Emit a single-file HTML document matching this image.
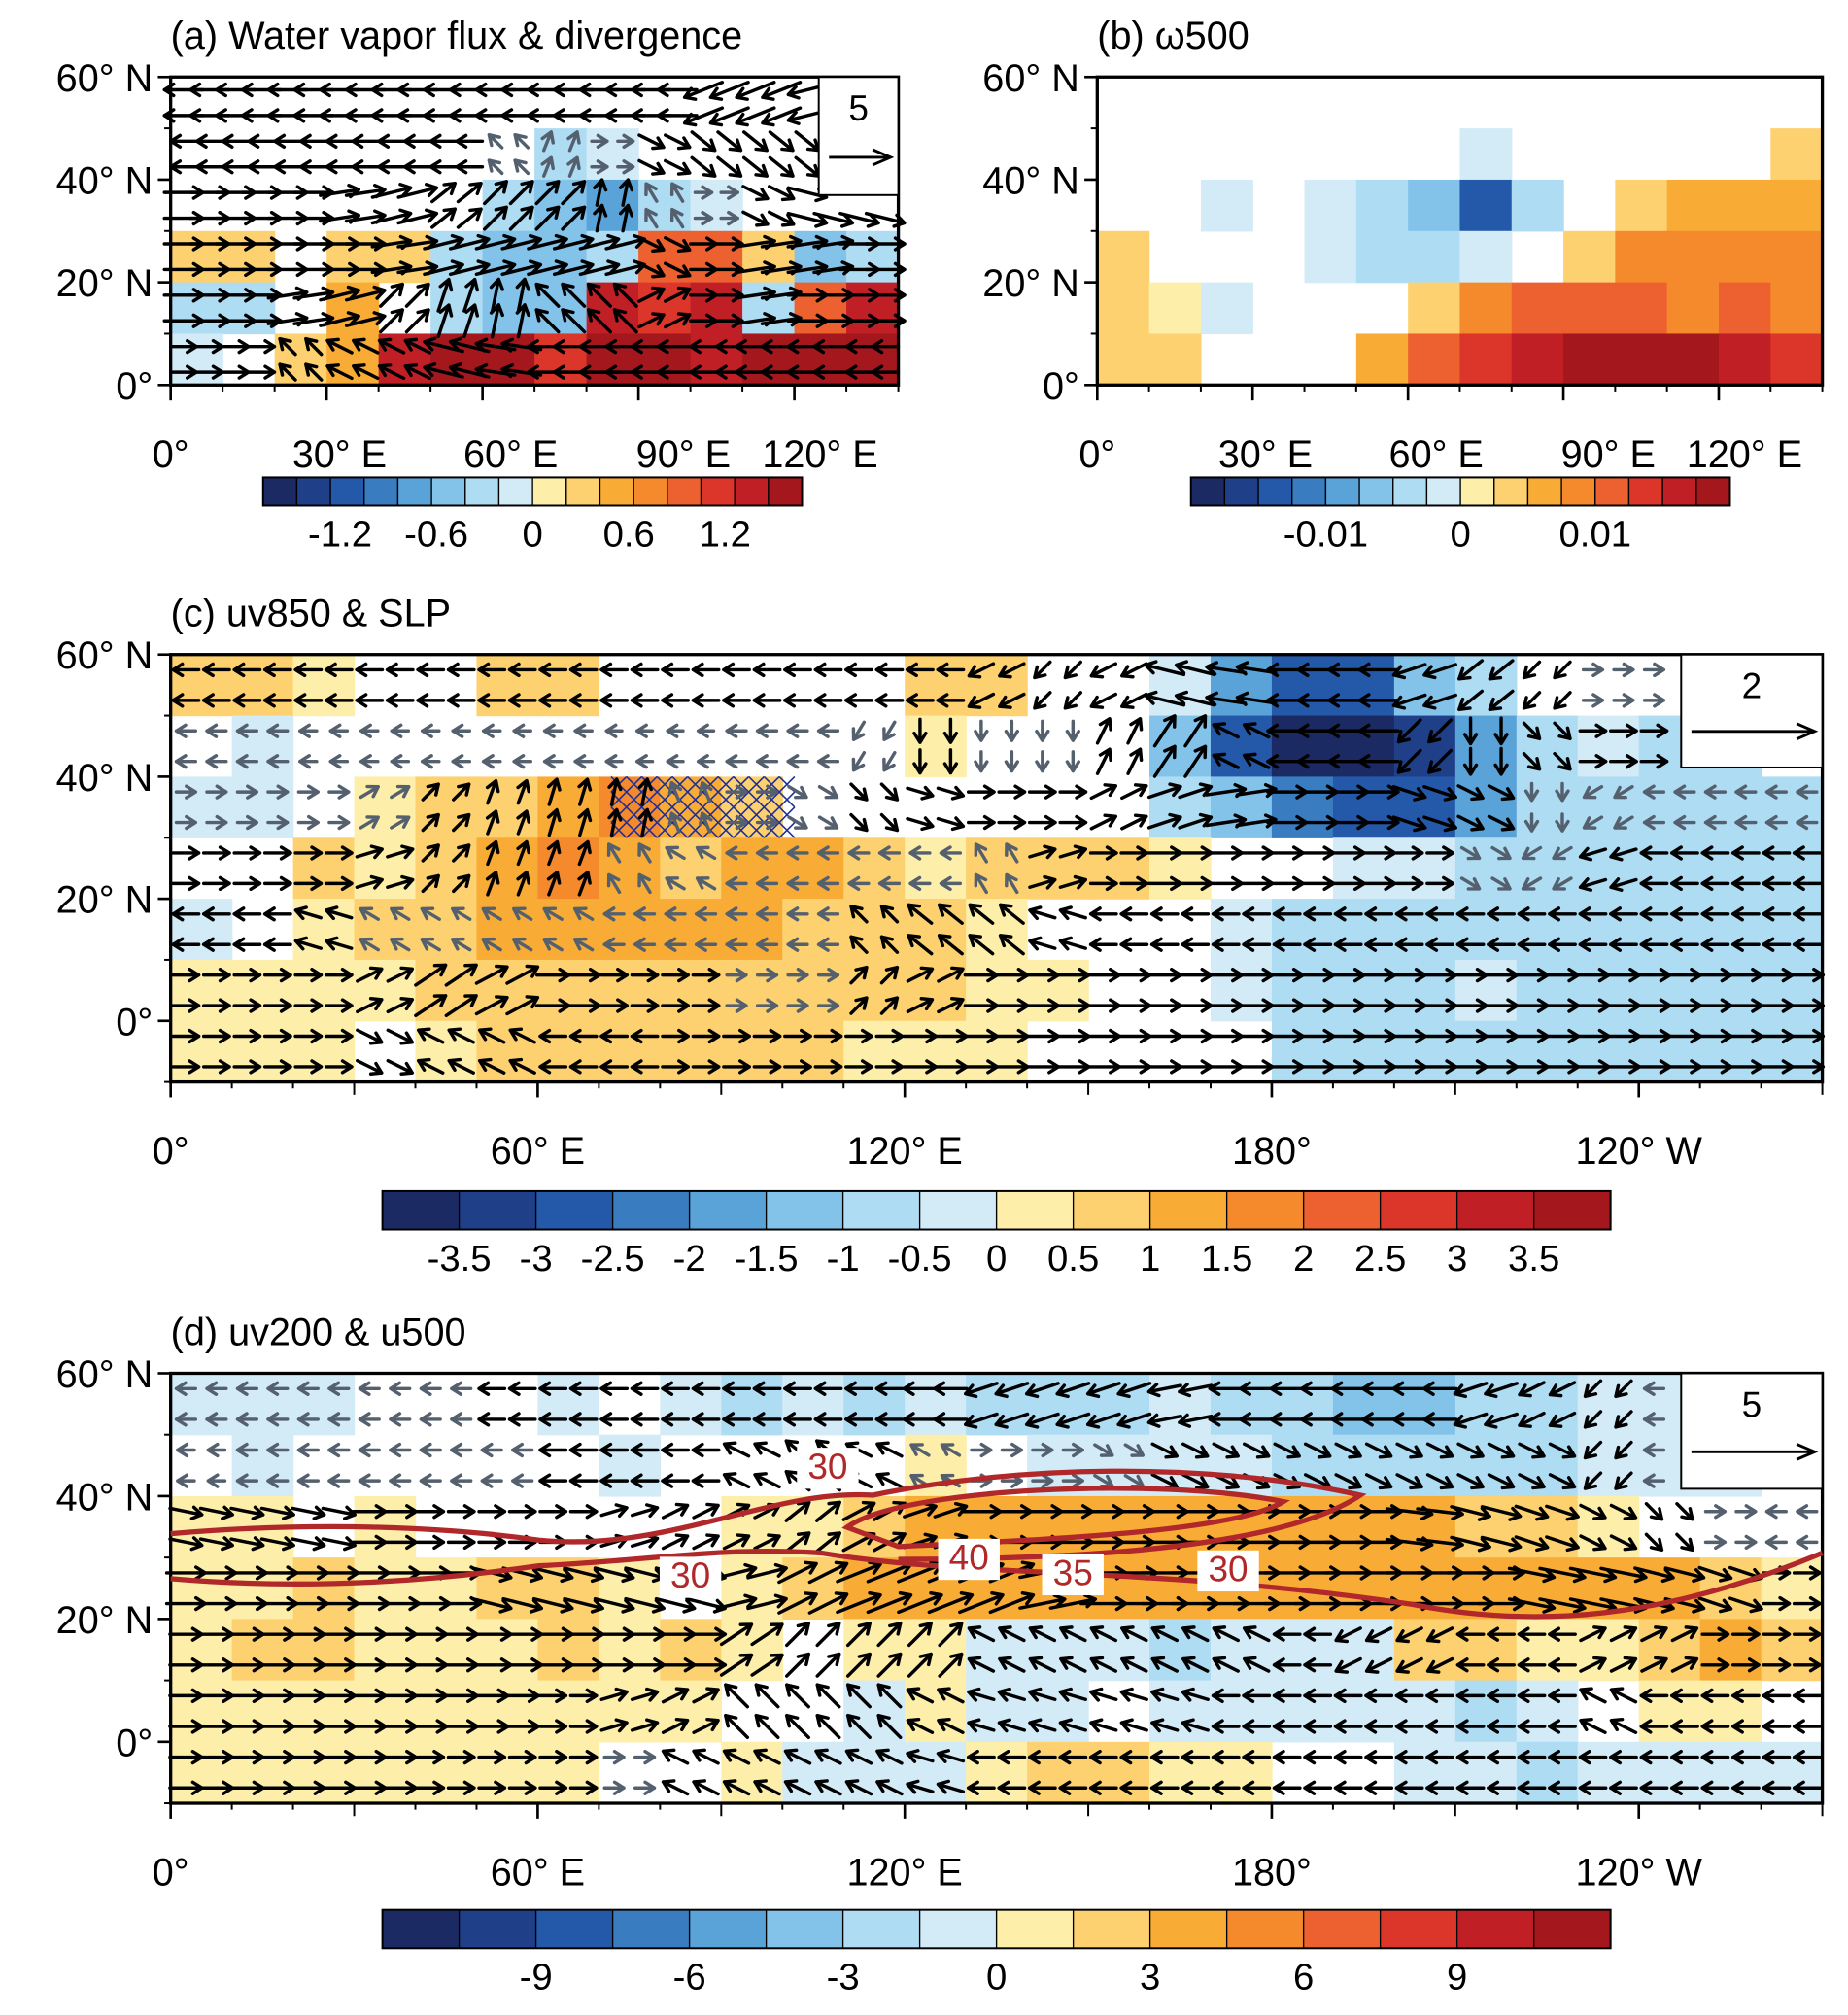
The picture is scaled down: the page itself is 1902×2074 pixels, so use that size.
<!DOCTYPE html>
<html><head><meta charset="utf-8"><style>
html,body{margin:0;padding:0;background:#fff}
svg{display:block}
text{font-family:"Liberation Sans",Arial,sans-serif;fill:#000}
</style></head><body>
<svg id="fig" xmlns="http://www.w3.org/2000/svg" width="1902" height="2074" viewBox="0 0 1440 1570" preserveAspectRatio="none"></svg>
<script>
// ---------- data ----------
const colors16=['#1b2a63','#1f4088','#2458a8','#3a7cc0','#5aa3d9','#83c2e9','#aedcf3','#d3ebf7','#fdeeaa','#fdd170','#f9ac35','#f58a2c','#ec612f','#dc352a','#c11f26','#a3171d'];
const levA=[-1.6,-1.4,-1.2,-1.0,-0.8,-0.6,-0.4,-0.2,0,0.2,0.4,0.6,0.8,1.0,1.2,1.4,1.6];
const ticksA=['-1.2','-0.6','0','0.6','1.2'];
const levB=[-0.016,-0.014,-0.012,-0.01,-0.008,-0.006,-0.004,-0.002,0,0.002,0.004,0.006,0.008,0.01,0.012,0.014,0.016];
const ticksB=['-0.01','0','0.01'];
const levC=[-4,-3.5,-3,-2.5,-2,-1.5,-1,-0.5,0,0.5,1,1.5,2,2.5,3,3.5,4];
const ticksC=['-3.5','-3','-2.5','-2','-1.5','-1','-0.5','0','0.5','1','1.5','2','2.5','3','3.5'];
const levD=[-12,-10.5,-9,-7.5,-6,-4.5,-3,-1.5,0,1.5,3,4.5,6,7.5,9,10.5,12];
const ticksD=['-9','-6','-3','0','3','6','9'];
// panel a divergence (lon 0-140 by 10, lat rows 55..5)
const divA=[
[0,0,0,0,0,0,0,0,0,0,0,0,0,0],
[0,0,0,0,0,0,0,-0.3,-0.2,0,0,0,0,0],
[0,0,0,0,0,0,-0.3,-0.6,-0.8,-0.4,-0.2,0,0,0],
[0.2,0.3,0,0.3,0.2,-0.4,-0.6,-0.5,-0.3,0.9,0.8,0.3,-0.5,-0.3],
[-0.3,-0.4,0,0.5,0,-0.3,-0.5,-0.6,1.2,1.0,1.3,-0.3,0.8,1.2],
[-0.2,0,0.3,0.5,1.3,1.5,1.5,1.0,1.5,1.6,1.3,1.6,1.6,1.5]];
const uA=[[-2,-2,-2,-2,-2,-2,-2,-2,-2,-2,-2,-2,-2,-2],[-1,-1,-1,-1,-1,-1,-0.3,0.2,0.2,1,1,1,1,1],[2,2,2,2,2,1,1,1,0.2,-0.3,0.3,1,2,2],[2,2,2,2,2,2,2,2,2,1,1,2,2,2],[2,2,2,2,1,0.5,0.3,-1,-1,1,1,2,2,2],[1,1,-0.5,-1,-1,-2,-2,-2,-2,-2,-1,-2,-2,-1]];
const vA=[[0,0,0,0,0,0,0,0,0,0,-0.8,-0.8,-0.5,0],[0,0,0,0,0,0,0.3,0.5,0,-0.5,-0.8,-0.8,-0.8,-0.5],[0,0,0,0.3,0.5,0.8,1,1,1,0.5,0,-0.5,-0.5,-0.5],[0,0,0,0,0.3,0.5,0.5,0.5,0.5,-0.5,0,0.3,0.3,0],[0,0,0.3,0.5,1,1.5,1.5,1,1,0.5,0,0.3,0,0],[0,0,0.5,0.5,0.5,0.5,0.3,0,0,0,0,0,0,0]];
// panel b omega500
const omB=[
[0,0,0,0,0,0,0,0,0,0,0,0,0,0],
[0,0,0,0,0,0,0,-0.002,0,0,0,0,0,0.002],
[0,0,-0.001,0,-0.002,-0.004,-0.006,-0.012,-0.004,0,0.002,0.004,0.004,0.004],
[0.002,0,0,0,-0.001,-0.004,-0.004,-0.002,0,0.002,0.006,0.006,0.006,0.006],
[0.002,0.001,-0.002,0,0,0,0.002,0.006,0.008,0.008,0.008,0.006,0.008,0.006],
[0.002,0.002,0,0,0,0.004,0.008,0.010,0.012,0.014,0.014,0.014,0.012,0.010]];
// panel c SLP (lon 0-270 by 10, lat rows 55..-5)
const slpC=[
[0.5,0.5,0.3,0,0,0.7,0.7,0,0,0,0,0,0.7,0.7,0,0,-0.5,-2,-2.7,-2.7,-1.2,-0.7,0,0,0,0,0],
[0,-0.3,0,0,0,0,0,0,0,0,0,0,0.3,0,0,0,-1.2,-3,-3.7,-3.7,-3.2,-1.7,-0.7,-0.3,-0.7,-0.7,0],
[-0.3,-0.3,0,0.3,0.7,0.7,1.2,1.7,1.2,0.7,0,0,0,0,0,0,-0.7,-1.2,-2.2,-2.7,-2.7,-1.7,-0.7,-0.7,-0.7,-0.7,-0.7],
[0,0,0.7,0.3,0.7,1.2,1.7,1.2,0.7,1.2,1.2,0.7,0.3,0.7,0.7,0.7,0.3,0,0,-0.3,-0.3,-0.7,-0.7,-0.7,-0.7,-0.7,-0.7],
[-0.3,0,0.3,0.7,0.7,1.2,1.2,1.2,1.2,1.2,0.7,0.7,0.7,0.3,0,0,0,-0.3,-0.7,-0.7,-0.7,-0.7,-0.7,-0.7,-0.7,-0.7,-0.7],
[0.3,0.3,0.3,0.3,0.7,0.7,0.7,0.7,0.7,0.7,0.7,0.7,0.7,0.3,0.3,0,0,-0.3,-0.7,-0.7,-0.7,-0.3,-0.7,-0.7,-0.7,-0.7,-0.7],
[0.3,0.3,0.3,0,0.3,0.7,0.7,0.7,0.7,0.7,0.7,0.3,0.3,0.3,0,0,0,0,-0.7,-0.7,-0.7,-0.7,-0.7,-0.7,-0.7,-0.7,-0.7]];
const uC=[
[-1,-1,-1,-1,-1,-1,-1,-1,-1,-1,-1,-1,-1,-1,-0.5,-1,-2,-2,-2,-2,-1.5,-1,-0.5,0.5,0.5,0.5,0.5],
[-0.5,-0.5,-0.3,-0.3,-0.3,-0.3,-0.3,-0.2,-0.2,-0.5,-0.5,-0.3,0,0,0,0.5,1,-1,-2,-2,-1,0,0.5,1,1,1,0.5],
[0.5,0.5,0.5,0.5,0.5,0.3,0.3,0.2,-0.2,0.5,0.5,0.5,1,1,1,1,1.5,2,2,2,1.5,1,0,-0.5,-0.5,-0.5,-0.5],
[1,1,1,1,0.5,0.3,0.3,-0.3,-0.5,-0.5,-0.5,-0.5,-0.5,-0.3,1,1,1.5,1.5,1.5,1.5,1,0.5,-0.5,-1,-1,-1,-1],
[-1,-1,-1,-0.5,-0.5,-0.5,-0.5,-0.5,-0.5,-0.5,-0.5,-0.5,-1,-1,-1,-1,-1,-1,-1,-1,-1,-1,-1,-1,-1,-1,-1],
[1,1,1,1,1.5,1.5,1.5,1,1,0.5,0.5,0.5,1,1.5,1.5,1.5,1.5,1.5,1.5,1.5,1.5,1.5,1.5,1.5,1.5,1.5,1.5],
[1,1,1,1,-1,-1,-1,-1,1,1,1,1,1.5,1.5,1.5,1.5,1.5,1.5,1.5,1.5,1.5,1.5,1.5,1.5,1.5,1.5,1.5]];
const vC=[
[0,0,0,0,0,0,0,0,0,0,0,0,0,-0.5,-0.5,-0.5,0.5,0.3,0,0,-0.5,-0.8,-0.5,0,0,0,0],
[0,0,0,0,0,0,0,0,0,0,0,-0.5,-0.8,-0.5,-0.5,1,1.5,0.5,0,0,-1,-1,-0.5,0,0,0,0],
[0,0,0,0.3,0.5,0.8,1,1,0.5,0,-0.3,-0.5,-0.3,0,0,0.5,0.5,0.3,0,0,-0.5,-0.5,-0.3,-0.3,0,0,0],
[0,0,0,0.3,0.5,0.8,0.8,0.5,0.3,0,0,0,0,0.5,0.3,0,0,0,0,0,0,-0.3,-0.3,-0.3,0,0,0],
[0,0,0.3,0.3,0.3,0.3,0.3,0,0,0,0,0.5,0.8,0.8,0.3,0,0,0,0,0,0,0,0,0,0,0,0],
[0,0,0,0.5,1,0.8,0,0,0,0,0,0.5,0.5,0,0,0,0,0,0,0,0,0,0,0,0,0,0],
[0,0,0,-0.5,0.5,0.5,0,0,0,0,0,0,0,0,0,0,0,0,0,0,0,0,0,0,0,0,0]];
// panel d u500 shading
const u5D=[
[-1,-1,-1,0,0,0,-1,0,-1,-2,-1,-2,-1,-2,-2,-2,-1,-3,-3,-4,-4,-3,-2,-1,-1,-2,-2],
[0,-1,0,0,0,0,0,-1,0,0,0,0,1,0,-1,-1,-1,-1,-2,-2,-2,-3,-2,-1,-1,-1,0],
[1,1,0,1,0,0,0,0,0,1,1,2,3.5,3.5,3.5,4,4,4,4,4,3.5,2,2,1,0,0,0],
[1,1,2,1,1,2,2,1,0,1,2,3.5,3.5,4,3.5,3.5,3.5,3.5,4,4,4,3.5,3.5,3.5,3.5,2,1],
[1,2,2,1,1,1,2,1,2,1,0,1,1,-1,-1,-1,-2,-1,-1,-1,2,2,1,1,2,3.5,2],
[1,1,1,1,1,1,1,1,1,0,0,-1,1,-1,-1,0,-1,-1,-1,-1,-1,-2,-1,0,1,1,0],
[1,1,1,1,1,1,1,0,0,1,-1,-1,-1,1,2,2,1,1,0,0,-1,-1,-2,-1,-1,-1,-1]];
const uD=[
[-0.5,-0.5,-0.5,-0.5,-0.5,-1,-1,-1,-1,-1,-1,-1,-1.5,-1.5,-1.5,-1.5,-1.5,-1.5,-1.5,-1.5,-1.5,-1.5,-1,-0.5,-0.5,-0.5,-0.5],
[-0.3,-0.5,-0.5,-0.5,-0.5,-0.5,-1,-1,-1,-1,-1,-1,-0.5,0.5,0.5,0.5,1,1,1,1,1,1,1,-0.5,-0.5,-0.5,-0.5],
[1.5,1.5,1.5,1.5,1,1,1,1,1,1,1,1.5,1.5,2,2,2,2.5,2.5,2.5,2.5,2.5,2,1.5,1,0.5,0.5,-0.5],
[2,2,2,2,2,2,2,2,2,2,2,2.5,2.5,2.5,2.5,2.5,2.5,2.5,2.5,2.5,2.5,2.5,2.5,2.5,2,1.5,1],
[1.5,1.5,1.5,1.5,1.5,2,2,2,2,1.5,1,1,1,-1,-1,-1,-1,-1,-1,-1,-1,-1,-1,1,1,1,1],
[1.5,1.5,1.5,1.5,1.5,1.5,1,1,1,-1,-1,-1,-1,-1,-1,-1,-1,-1,-1,-1,-1,-1,-1,-1,-1,-1,-1],
[1.5,1.5,1.5,1.5,1,1,1,0.5,-1,-1,-1,-1,-1,-1,-1,-1,-1,-1,-1,-1,-1,-1,-1,-1,-1,-1,-1]];
const vD=[
[0,0,0,0,0,0,0,0,0,0,0,0,0,-0.5,-0.5,-0.5,-0.3,0,0,0,0,-0.5,-0.5,-0.5,0,0,0],
[0,0,0,0,0,0,0,0,0,0.5,0.8,0.5,0.3,0,0,-0.3,-0.5,-0.5,-0.5,-0.5,-0.5,-0.5,-0.5,-0.5,0,0,0],
[-0.3,-0.3,-0.3,0,0,0,0,0.3,0.5,0.5,0.8,0.8,0.5,0,0,0,0,0,0,0,-0.3,-0.5,-0.5,-0.5,-0.5,0,0],
[0,0,0,0,0,-0.5,-0.5,-0.5,-0.5,0.5,1,1,1,1,0.5,0,0,0,0,0,0,0,-0.5,-0.5,-0.5,-0.5,0],
[0,0,0,0,0,0,0,0,0,1,1,1,1,0.5,0.5,0.5,0.5,0.5,0,-0.5,-0.5,0,0,0.5,0.5,0,0],
[0,0,0,0,0,0,0,0.3,0.5,1,1,1,0.5,0.3,0.3,0.3,0.3,0,0,0,0,0,0,0.5,0,0,0],
[0,0,0,0,0,0,0,0,0.5,0.5,0.5,0.5,0.3,0,0,0,0,0,0,0,0,0,0,0,0,0,0]];
// ---------- drawing ----------
const NS='http://www.w3.org/2000/svg';
const svg=document.getElementById('fig');
function el(tag,attrs,parent){const e=document.createElementNS(NS,tag);for(const k in attrs)e.setAttribute(k,attrs[k]);(parent||svg).appendChild(e);return e;}
function txt(s,x,y,size,anchor,parent,name){const t=el('text',{x:x,y:y,'font-size':size,'text-anchor':anchor||'start'},parent);t.textContent=s;


return t;}
function colorFor(v,lev){if(v===0)return null;for(let i=0;i<lev.length-1;i++){if(v<lev[i+1])return colors16[Math.max(i,0)];}return colors16[15];}
function panel(o){
  const g=el('g',{});
  
  
  const X=lon=>o.x0+(lon-o.lon0)/(o.lon1-o.lon0)*(o.x1-o.x0);
  const Y=lat=>o.y1-(lat-o.lat0)/(o.lat1-o.lat0)*(o.y1-o.y0);
  const rows=o.field.length;
  for(let r=0;r<rows;r++)for(let c=0;c<o.field[r].length;c++){
    const col=colorFor(o.field[r][c],o.lev); if(!col)continue;
    const latTop=o.lat1-r*10, lon=o.lon0+c*10;
    const rc=el('rect',{x:X(lon),y:Y(latTop),width:X(lon+10)-X(lon)+0.5,height:Y(latTop-10)-Y(latTop)+0.5,fill:col},g);
    
    
  }
  if(o.hatch){const h=o.hatch;for(let lon=h[0];lon<h[1];lon+=2.5)for(let lat=h[2];lat<h[3];lat+=2.5){
    const x=X(lon),y=Y(lat),x2=X(lon+2.5),y2=Y(lat+2.5);
    const p=el('path',{d:`M${x},${y}L${x2},${y2}M${x},${y2}L${x2},${y}`,stroke:'#1f2f9a','stroke-width':1.2,fill:'none'},g);
    
    }}
  if(o.u){
    for(let lat=o.lat1-2.5;lat>o.lat0;lat-=5)for(let lon=o.lon0+2.5;lon<o.lon1;lon+=5){
      if(o.refBox && X(lon)>o.refBox[0]-8 && Y(lat)<o.refBox[1]+8)continue;
      const r=Math.min(rows-1,Math.floor((o.lat1-lat)/10)), c=Math.min(o.u[0].length-1,Math.floor((lon-o.lon0)/10));
      const u=o.u[r][c], v=o.v[r][c]; const m=Math.hypot(u,v); if(m<0.05)continue;
      const L=Math.min(36,10+m*10), dx=u/m, dy=-v/m;
      const cx=X(lon), cy=Y(lat);
      const x1=cx-dx*L/2,y1=cy-dy*L/2,x2=cx+dx*L/2,y2=cy+dy*L/2;
      const hx=-dx*9, hy=-dy*9;
      const a1x=x2+hx*0.8-hy*0.5, a1y=y2+hy*0.8+hx*0.5, a2x=x2+hx*0.8+hy*0.5, a2y=y2+hy*0.8-hx*0.5;
      const col=m<0.6?'#55606e':'#000';
      const p=el('path',{d:`M${x1},${y1}L${x2},${y2}M${a1x},${a1y}L${x2},${y2}L${a2x},${a2y}`,stroke:col,'stroke-width':2.6,fill:'none','stroke-linecap':'round','stroke-linejoin':'round'},g);
      
      
    }
  }
  const fr=el('rect',{x:o.x0,y:o.y0,width:o.x1-o.x0,height:o.y1-o.y0,fill:'none',stroke:'#000','stroke-width':2.5},g);
  
  
  if(o.refBox){const b=o.refBox;
    const rb=el('rect',{x:b[0],y:o.y0,width:o.x1-b[0],height:b[1]-o.y0,fill:'#fff',stroke:'#000','stroke-width':1.5},g);
    
    
    txt(o.refLabel,(b[0]+o.x1)/2,o.y0+34,28,'middle',g,'reference-vector-value');
    const ax=b[0]+8, ay=o.y0+(b[1]-o.y0)*0.68, bx=o.x1-6;
    const ar=el('path',{d:`M${ax},${ay}L${bx},${ay}M${bx-14},${ay-6}L${bx},${ay}L${bx-14},${ay+6}`,stroke:'#000','stroke-width':2.2,fill:'none'},g);
    
    
  }
  for(const t of o.yt){const y=Y(t[0]);el('line',{x1:o.x0-10,y1:y,x2:o.x0,y2:y,stroke:'#000','stroke-width':2},g);
    txt(t[1],o.x0-14,y+11,30,'end',g,'y-tick-label');}
  for(let lat=o.lat0;lat<=o.lat1;lat+=10){const y=Y(lat);el('line',{x1:o.x0-5,y1:y,x2:o.x0,y2:y,stroke:'#000','stroke-width':1.5},g);}
  for(let lon=o.lon0;lon<=o.lon1;lon+=10){const x=X(lon);el('line',{x1:x,y1:o.y1,x2:x,y2:o.y1+(lon%30===0?10:5),stroke:'#000','stroke-width':1.5},g);}
  for(const t of o.xt){const x=X(t[0]);el('line',{x1:x,y1:o.y1,x2:x,y2:o.y1+12,stroke:'#000','stroke-width':2},g);
    txt(t[1],x+(t[2]||0),o.y1+o.xlabOff,30,'middle',g,'x-tick-label');}
  txt(o.title,o.x0,o.y0-22,30,'start',g,'panel-title');
}
function colorbar(name,x0,x1,y0,h,lev,ticks,cx,per){
  const g=el('g',{});
  
  
  const w=(x1-x0)/16;
  for(let i=0;i<16;i++){const r=el('rect',{x:x0+i*w,y:y0,width:w,height:h,fill:colors16[i],stroke:'#000','stroke-width':1},g);
    
    }
  el('rect',{x:x0,y:y0,width:x1-x0,height:h,fill:'none',stroke:'#000','stroke-width':1.5},g);
  for(const t of ticks){const v=parseFloat(t);const x=cx!==undefined?cx+v*per:x0+(lev.indexOf(v))*w;
    txt(t,x,y0+h+32,29,'middle',g,'colorbar-tick-label');}
}
panel({name:'panel-a-water-vapor',x0:133,x1:700,y0:60,y1:300,lon0:0,lon1:140,lat0:0,lat1:60,field:divA,lev:levA,u:uA,v:vA,refBox:[638,152],refLabel:'5',
  yt:[[60,'60° N'],[40,'40° N'],[20,'20° N'],[0,'0°']],xt:[[0,'0°'],[30,'30° E',10],[60,'60° E',22],[90,'90° E',35],[120,'120° E',20]],xlabOff:64,title:'(a) Water vapor flux & divergence'});
colorbar('colorbar-a',205,625,372,22,levA,ticksA,415,125);
panel({name:'panel-b-omega500',x0:855,x1:1420,y0:60,y1:300,lon0:0,lon1:140,lat0:0,lat1:60,field:omB,lev:levB,
  yt:[[60,'60° N'],[40,'40° N'],[20,'20° N'],[0,'0°']],xt:[[0,'0°'],[30,'30° E',10],[60,'60° E',22],[90,'90° E',35],[120,'120° E',20]],xlabOff:64,title:'(b) ω500'});
colorbar('colorbar-b',928,1348,372,22,levB,ticksB,1138,10500);
panel({name:'panel-c-uv850-slp',x0:133,x1:1420,y0:510,y1:843,lon0:0,lon1:270,lat0:-10,lat1:60,field:slpC,lev:levC,u:uC,v:vC,refBox:[1310,598],refLabel:'2',hatch:[72,100,30,40],
  yt:[[60,'60° N'],[40,'40° N'],[20,'20° N'],[0,'0°']],xt:[[0,'0°'],[60,'60° E'],[120,'120° E'],[180,'180°'],[240,'120° W']],xlabOff:64,title:'(c) uv850 & SLP'});
colorbar('colorbar-c',298,1255,928,30,levC,ticksC);
panel({name:'panel-d-uv200-u500',x0:133,x1:1420,y0:1070,y1:1405,lon0:0,lon1:270,lat0:-10,lat1:60,field:u5D,lev:levD,u:uD,v:vD,refBox:[1310,1160],refLabel:'5',
  yt:[[60,'60° N'],[40,'40° N'],[20,'20° N'],[0,'0°']],xt:[[0,'0°'],[60,'60° E'],[120,'120° E'],[180,'180°'],[240,'120° W']],xlabOff:64,title:'(d) uv200 & u500'});
colorbar('colorbar-d',298,1255,1488,30,levD,ticksD);
const jetPaths=['M133,1195 C250,1185 350,1190 420,1200 C520,1210 600,1160 680,1165 C800,1140 950,1140 1060,1165 C1000,1205 850,1215 700,1215',
'M133,1230 C250,1240 350,1230 420,1220 C520,1215 560,1205 640,1210 C760,1230 900,1220 1100,1250 C1200,1270 1300,1260 1420,1210',
'M660,1190 C700,1160 900,1150 1000,1170 C960,1195 800,1200 700,1205 Z'];
for(const d of jetPaths){const p=el('path',{d:d,stroke:'#b0282a','stroke-width':4,fill:'none'});
  
  }
const jetLabels=[['30',645,1152],['30',538,1237],['40',755,1223],['35',836,1235],['30',957,1232]];
for(const l of jetLabels){const r=el('rect',{x:l[1]-24,y:l[2]-24,width:48,height:32,fill:'#fff'});
  
  
  const t=el('text',{x:l[1],y:l[2],'font-size':28,'text-anchor':'middle',style:'fill:#b0282a'});t.textContent=l[0];
  
  }
</script>
</body></html>
